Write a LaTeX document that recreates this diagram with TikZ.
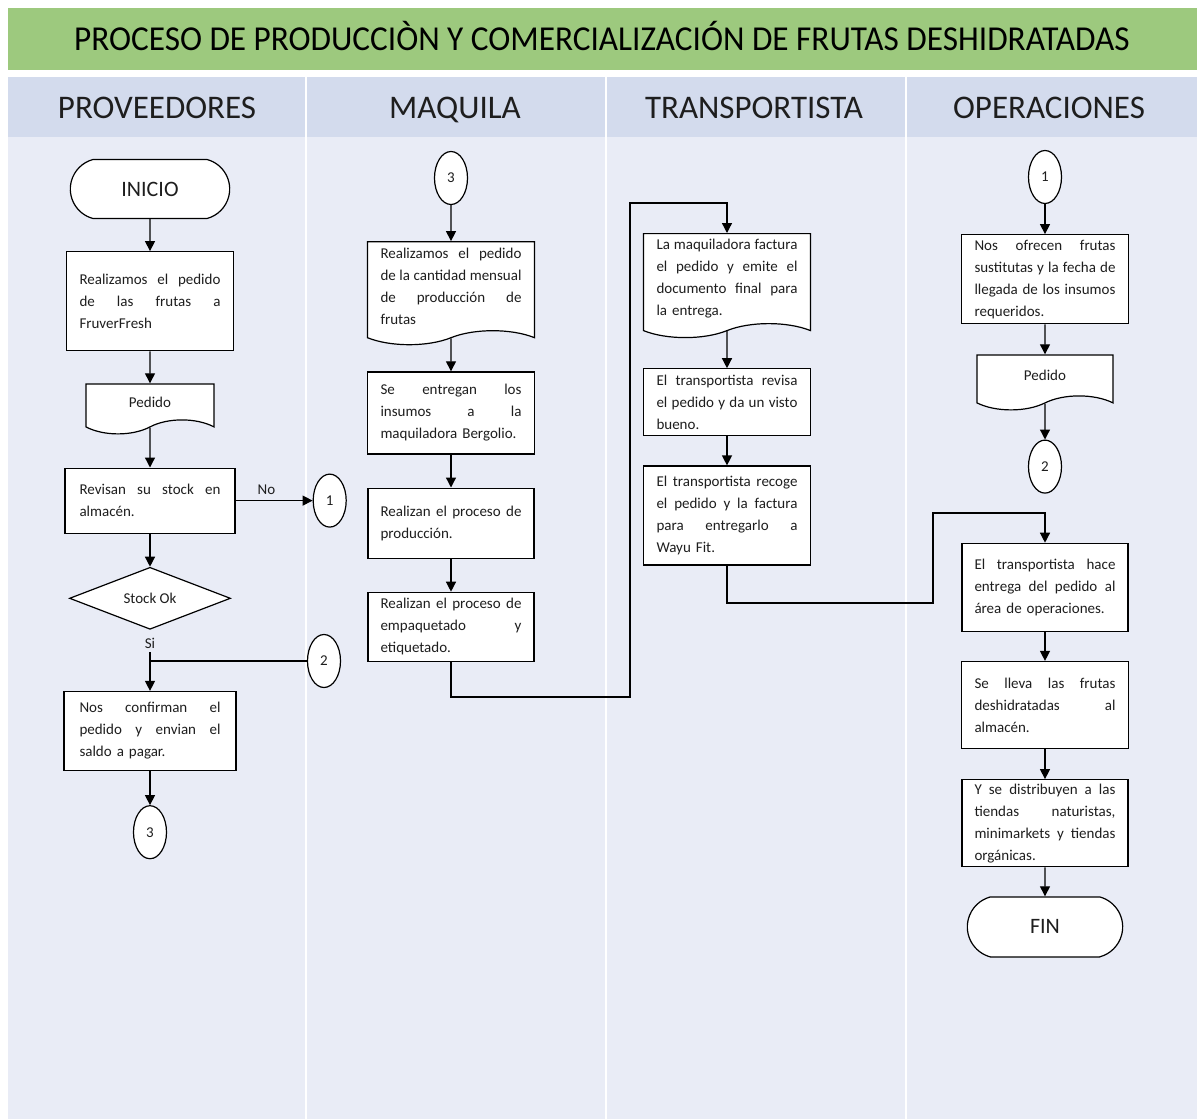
\documentclass[tikz,border=0pt]{standalone}
\usepackage{fontspec}
\setmainfont{Carlito}
\usetikzlibrary{shapes.geometric,shapes.symbols,shapes.misc,arrows.meta,positioning}

\definecolor{titlegreen}{RGB}{157,201,126}
\definecolor{headblue}{RGB}{211,219,237}
\definecolor{lanebg}{RGB}{233,236,246}
\definecolor{inkgray}{RGB}{30,30,30}

% one justified line inside a box (the font's own stretchable spaces)
\newcommand{\jl}[1]{\makebox[141pt][s]{\spaceskip=0pt\xspaceskip=0pt #1}\\}

\begin{document}
\begin{tikzpicture}[
        x=1pt, y=-1pt,
        node distance=31pt,
        every node/.style={font=\fontsize{15}{22}\selectfont, text=inkgray},
        stepbox/.style={rectangle, draw, fill=white, line width=1.2pt, text width=141pt, align=left, minimum width=167pt, inner sep=3pt},
        docbox/.style={tape, tape bend top=none, tape bend bottom=in and out, tape bend height=14pt, draw, fill=white, line width=1.2pt, minimum width=167pt, inner sep=3pt},
        terminal/.style={rounded rectangle, rounded rectangle arc length=150, draw, fill=white, line width=1.2pt, minimum width=166pt, minimum height=59pt, font=\fontsize{22}{26}\selectfont},
        connector/.style={ellipse, draw, fill=white, line width=1.2pt, minimum width=33pt, minimum height=53pt, inner sep=0pt},
        decision/.style={diamond, draw, fill=white, line width=1.2pt, minimum width=161pt, minimum height=62pt, inner sep=0pt, aspect=2.6},
        header/.style={anchor=base, font=\fontsize{33}{38}\selectfont},
        line/.style={-{Triangle[length=10pt,width=10pt]}, line width=1.3pt},
        wire/.style={line width=1.3pt}
    ]
    \useasboundingbox (0,0) rectangle (1203,1119);

    % title bar, lane headers and lanes
    \fill[titlegreen] (8,8) rectangle (1197,70);
    \fill[headblue] (8,77) rectangle (1197,137);
    \fill[lanebg] (8,137) rectangle (1197,1119);
    \foreach \x in {306,606,906}
        \draw[white, line width=1.6pt] (\x,77) -- (\x,1119);

    \node[anchor=base, font=\fontsize{35}{40}\selectfont, text=black] (title) at (602,50) {\scalebox{0.95}[1]{PROCESO DE PRODUCCIÒN Y COMERCIALIZACIÓN DE FRUTAS DESHIDRATADAS}};
    \node[header] (hprov) at (157,118) {PROVEEDORES};
    \node[header] (hmaq) at (455,118) {MAQUILA};
    \node[header] (htrans) at (754,118) {TRANSPORTISTA};
    \node[header] (hops) at (1049,118) {OPERACIONES};

    % proveedores
    \node[terminal] (inicio) at (150,189) {INICIO};
    \node[stepbox, minimum height=99pt, below=32pt of inicio] (pedfrutas) {\jl{Realizamos el pedido}\jl{de las frutas a}FruverFresh};
    \node[docbox, minimum width=128pt, minimum height=50pt, below=32pt of pedfrutas] (pedido1) {Pedido};
    \node[stepbox, minimum width=170pt, minimum height=65pt, below=47pt of pedido1] (revisan) {\jl{Revisan su stock en}almacén.};
    \node[decision, below=33pt of revisan] (stockok) {Stock Ok};
    \node[below=5pt of stockok] (si) {Si};
    \node[stepbox, minimum width=172pt, minimum height=79pt, below=61pt of stockok] (confirman) {\jl{Nos confirman el}\jl{pedido y envian el}saldo a pagar.};
    \node[connector, below=34pt of confirman] (c3a) {3};
    \node[connector, right=77pt of revisan] (c1a) {1};
    \node[connector] (c2a) at (324,661) {2};

    \draw[line] (inicio) -- (pedfrutas);
    \draw[line] (pedfrutas) -- (pedido1);
    \draw[line] (pedido1) -- (revisan);
    \draw[line] (revisan) -- (stockok);
    \draw[line] (revisan) -- node[above, pos=0.4, inner sep=5pt] {No} (c1a);
    \draw[line] (si) -- (confirman);
    \draw[wire] (c2a.west) -- (c2a.west -| confirman.north);
    \draw[line] (confirman) -- (c3a);

    % maquila
    \node[connector] (c3b) at (451,178) {3};
    \node[docbox, text width=141pt, align=left, minimum height=103pt, below=36pt of c3b] (pedmensual) {\jl{Realizamos el pedido}\jl{de la cantidad mensual}\jl{de producción de}frutas};
    \node[stepbox, minimum height=82pt, below=40pt of pedmensual] (insumos) {\jl{Se entregan los}\jl{insumos a la}maquiladora Bergolio.};
    \node[stepbox, minimum width=166pt, minimum height=70pt, below=33pt of insumos] (produccion) {\jl{Realizan el proceso de}producción.};
    \node[stepbox, minimum width=166pt, minimum height=69pt, below=33pt of produccion] (empaque) {\jl{Realizan el proceso de}\jl{empaquetado y}etiquetado.};

    \draw[line] (c3b) -- (pedmensual);
    \draw[line] (pedmensual) -- (insumos);
    \draw[line] (insumos) -- (produccion);
    \draw[line] (produccion) -- (empaque);

    % transportista
    \node[docbox, text width=141pt, align=left, minimum height=104pt, anchor=north] (factura) at (727,233) {\jl{La maquiladora factura}\jl{el pedido y emite el}\jl{documento final para}la entrega.};
    \node[stepbox, minimum height=67pt, below=44pt of factura] (revisa) {\jl{El transportista revisa}\jl{el pedido y da un visto}bueno.};
    \node[stepbox, minimum height=99pt, below=29pt of revisa] (recoge) {\jl{El transportista recoge}\jl{el pedido y la factura}\jl{para entregarlo a}Wayu Fit.};

    \coordinate (bendA) at (630,697);
    \coordinate (bendB) at (630,203);
    \draw[line] (empaque.south) |- (bendA) -- (bendB) -| (factura.north);
    \draw[line] (factura) -- (revisa);
    \draw[line] (revisa) -- (recoge);

    % operaciones
    \node[connector] (c1b) at (1045,177) {1};
    \node[stepbox, minimum height=89pt, below=30pt of c1b] (ofrecen) {\jl{Nos ofrecen frutas}\jl{sustitutas y la fecha de}\jl{llegada de los insumos}requeridos.};
    \node[docbox, minimum width=136pt, minimum height=55pt, below=30pt of ofrecen] (pedido2) {Pedido};
    \node[connector, below=43pt of pedido2] (c2b) {2};
    \node[stepbox, minimum width=166pt, minimum height=88pt, below=49pt of c2b] (entrega) {\jl{El transportista hace}\jl{entrega del pedido al}área de operaciones.};
    \node[stepbox, minimum height=87pt, below=29pt of entrega] (lleva) {\jl{Se lleva las frutas}\jl{deshidratadas al}almacén.};
    \node[stepbox, minimum width=166pt, minimum height=87pt, below=30pt of lleva] (distribuyen) {\jl{Y se distribuyen a las}\jl{tiendas naturistas,}\jl{minimarkets y tiendas}orgánicas.};
    \node[terminal, minimum width=162pt, minimum height=60pt, below=29pt of distribuyen] (fin) {FIN};

    \coordinate (bendC) at (933,603);
    \coordinate (bendD) at (933,513);
    \draw[line] (recoge.south) |- (bendC) -- (bendD) -| (entrega.north);
    \draw[line] (c1b) -- (ofrecen);
    \draw[line] (ofrecen) -- (pedido2);
    \draw[line] (pedido2) -- (c2b);
    \draw[line] (entrega) -- (lleva);
    \draw[line] (lleva) -- (distribuyen);
    \draw[line] (distribuyen) -- (fin);
\end{tikzpicture}
\end{document}
